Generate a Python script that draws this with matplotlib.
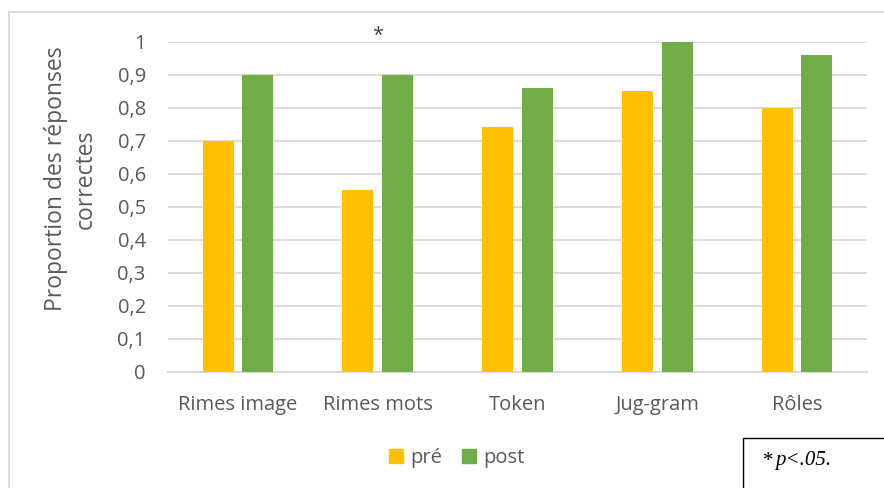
import numpy as np
import matplotlib
matplotlib.use("Agg")
import matplotlib.pyplot as plt
from matplotlib.patches import Rectangle, Patch

# data
categories = ["Rimes image", "Rimes mots", "Token", "Jug-gram", "Rôles"]
pre = [0.70, 0.55, 0.74, 0.85, 0.80]
post = [0.90, 0.90, 0.86, 1.00, 0.96]
ticks = [0, 0.1, 0.2, 0.3, 0.4, 0.5, 0.6, 0.7, 0.8, 0.9, 1]
tick_labels = ["0", "0,1", "0,2", "0,3", "0,4", "0,5", "0,6", "0,7", "0,8", "0,9", "1"]
signif = "Rimes mots"

yellow = "#FFC000"
green = "#70AD47"
txt = "#595959"
grid_c = "#D9D9D9"

plt.rcParams["font.family"] = ["Open Sans", "DejaVu Sans"]

W, H = 884, 488
fig = plt.figure(figsize=(W / 100, H / 100), dpi=100)
ax = fig.add_axes([168 / W, 1 - 371.5 / H, (867 - 168) / W, 330 / H])

x = np.arange(len(categories))
bw = 0.222
off = 0.142
ax.bar(x - off, pre, bw, color=yellow, label="pré", zorder=3)
ax.bar(x + off, post, bw, color=green, label="post", zorder=3)

ax.set_xlim(-0.5, len(categories) - 0.5)
ax.set_ylim(0, 1)
ax.set_yticks(ticks)
ax.set_yticklabels(tick_labels)
ax.set_xticks(x)
ax.set_xticklabels(categories)
ax.tick_params(axis="both", length=0, labelsize=14.5, colors=txt)
ax.tick_params(axis="y", pad=16)
ax.tick_params(axis="x", pad=17)
ax.yaxis.grid(True, color=grid_c, lw=1.3, zorder=0)
for s in ["top", "right", "left"]:
    ax.spines[s].set_visible(False)
ax.spines["bottom"].set_color(grid_c)
ax.spines["bottom"].set_linewidth(1.3)

# y title sits a little above the axes centre, as in the source
fig.text(71 / W, 1 - 179 / H, "Proportion des réponses\ncorrectes", fontsize=16.5,
         color=txt, rotation=90, ha="center", va="center", multialignment="center",
         linespacing=1.3)

# significance star
ax.text(categories.index(signif), 1.02, "*", ha="center", va="center",
        fontsize=14.5, color="#404040")

handles = [Patch(color=yellow, label="pré"), Patch(color=green, label="post")]
fig.legend(handles=handles, loc="center", bbox_to_anchor=(457 / W, 1 - 458 / H),
           ncol=2, frameon=False, fontsize=14.5, labelcolor=txt,
           handlelength=0.7, handleheight=0.7, handletextpad=0.35,
           columnspacing=1.0)

# outer chart frame
fig.patches.append(Rectangle((9 / W, -0.05), 1.0, 1 - 12 / H + 0.05,
                             transform=fig.transFigure, fill=False,
                             ec="#D9D9D9", lw=1.3))

# note box
fig.patches.append(Rectangle((743 / W, -0.05), 0.3, 1 - 438 / H + 0.05,
                             transform=fig.transFigure, fill=False,
                             ec="black", lw=1.0, zorder=5))
fig.text(763 / W, 1 - 461 / H, "*", fontsize=15, family="Liberation Serif",
         ha="left", va="center")
fig.text(775 / W, 1 - 461 / H, "p<.05.", fontsize=15, family="Liberation Serif",
         style="italic", ha="left", va="center")

fig.savefig("out.png", dpi=100)
